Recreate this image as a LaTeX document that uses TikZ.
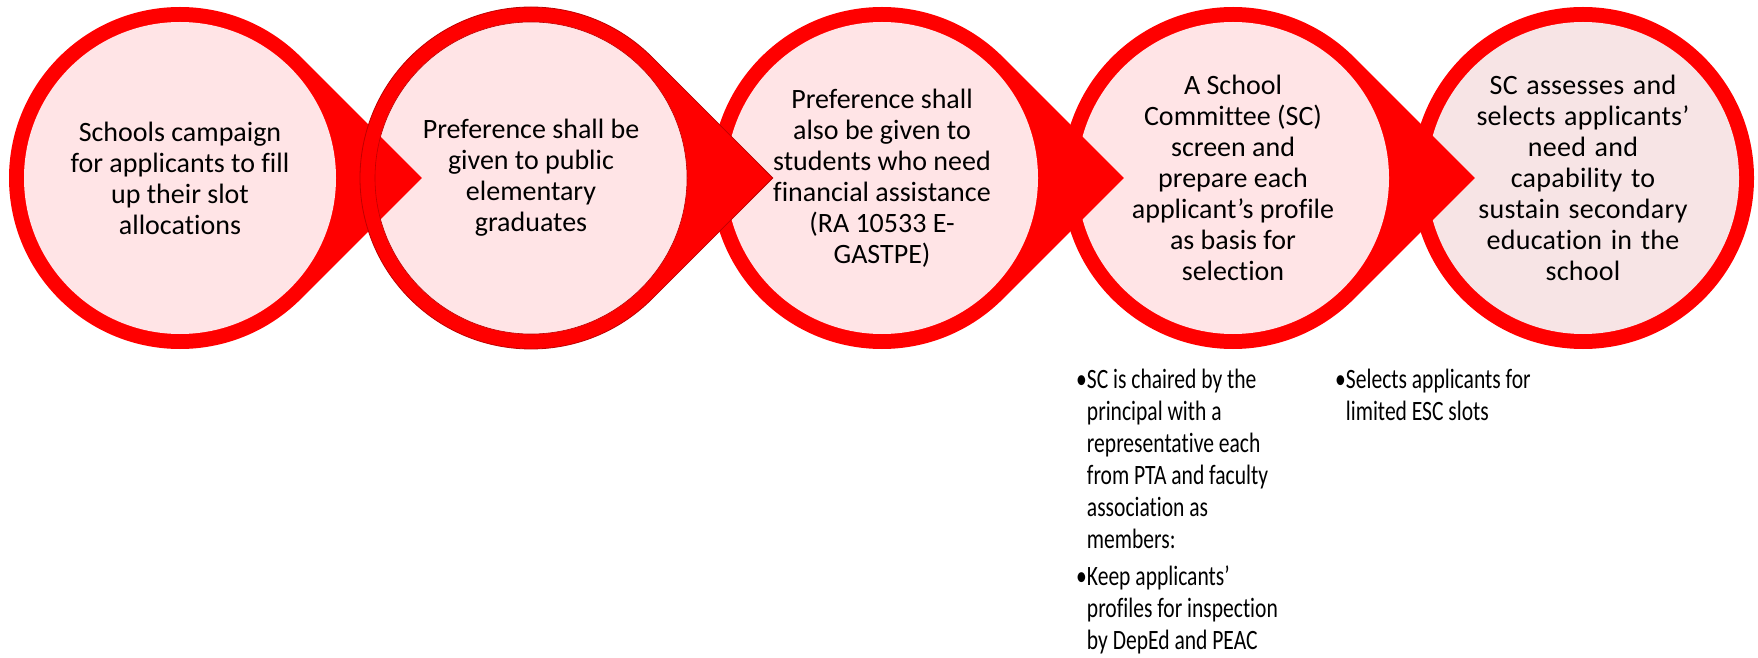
\documentclass[tikz,border=0pt]{standalone}
\usepackage{fontspec}
\defaultfontfeatures{Ligatures=NoCommon}
\setmainfont{Carlito}
\newfontfamily\anchofont[WordSpace=1.3, LetterSpace=1]{Carlito}
\newfontfamily\notafont[FakeStretch=0.77]{Carlito}
\usepackage{xcolor}
\usetikzlibrary{calc}
\definecolor{rojo}{RGB}{255,0,0}
\definecolor{rojoosc}{RGB}{190,0,0}
\definecolor{rosado}{RGB}{255,228,230}
\definecolor{rosagris}{RGB}{247,228,229}

\tikzset{
    gota/.style={fill=rojo},
    paso/.style={circle, minimum size=312pt, inner sep=0pt, align=center,
        font=\fontsize{28}{31}\selectfont},
    lista/.style={anchor=north west, inner sep=0pt, font=\notafont\fontsize{28}{32}\selectfont}
}

\begin{document}
\begin{tikzpicture}[x=1pt, y=1pt]
    \useasboundingbox (0,0) rectangle (1758,657);
    \coordinate (c5) at (1583,479);
    \fill[gota] (c5) circle[radius=171];
    \node[paso, fill=rosagris, font=\anchofont\fontsize{28}{31}\selectfont] (p5) at (c5) {SC assesses and\\selects applicants’\\need and\\capability to\\sustain secondary\\education in the\\school};
    \foreach \i/\x/\t in {
        4/1233/{A School\\Committee (SC)\\screen and\\prepare each\\applicant’s profile\\as basis for\\selection},
        3/882/{Preference shall\\also be given to\\students who need\\financial assistance\\(RA 10533 E-\\GASTPE)},
        2/531/{Preference shall be\\given to public\\elementary\\graduates},
        1/180/{Schools campaign\\for applicants to fill\\up their slot\\allocations}} {
        \coordinate (c\i) at (\x,479);
        \fill[gota] (c\i) ++(45:171) arc[start angle=45, end angle=315, radius=171]
            -- ($(c\i)+(241.8,0)$) -- cycle;
        \node[paso, fill=rosado] (p\i) at (c\i) {\t};
    }
    \draw[rojoosc, line width=0.8pt] (c2) ++(45:171) arc[start angle=45, end angle=315, radius=171]
        -- ($(c2)+(241.8,0)$) -- cycle;
    \draw[rojoosc, line width=0.6pt] (p2) circle[radius=156];
    \node[lista] (notas4) at (1076,291) {%
        \begin{tabular}{@{}l@{}l@{}}
            •&SC is chaired by the\\
             &principal with a\\
             &representative each\\
             &from PTA and faculty\\
             &association as\\
             &members:\\[5pt]
            •&Keep applicants’\\
             &profiles for inspection\\
             &by DepEd and PEAC
        \end{tabular}};
    \node[lista] (notas5) at (1335,291) {%
        \begin{tabular}{@{}l@{}l@{}}
            •&Selects applicants for\\
             &limited ESC slots
        \end{tabular}};
\end{tikzpicture}
\end{document}
